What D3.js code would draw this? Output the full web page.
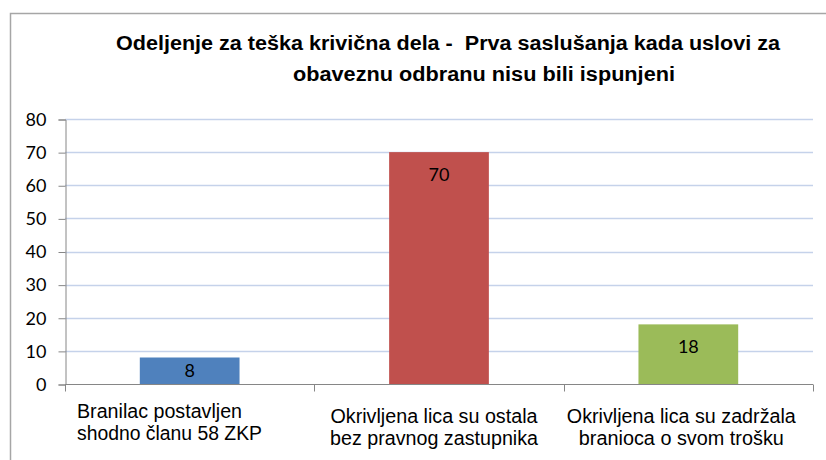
<!DOCTYPE html>
<html>
<head>
<meta charset="utf-8">
<script src="https://cdn.jsdelivr.net/npm/d3@7"></script>
<style>
  body { margin: 0; background: #fff; }
  svg { display: block; }
  text { white-space: pre; }
</style>
</head>
<body>
<svg width="826" height="460"></svg>
<script>
//chart data
const categories = [
    ["Branilac postavljen", "shodno članu 58 ZKP"],
    ["Okrivljena lica su ostala", "bez pravnog zastupnika"],
    ["Okrivljena lica su zadržala", "branioca o svom trošku"]
];
const values = [8, 70, 18];
const bar_colors = ["#4f81bd", "#c0504d", "#9bbb59"];
const y_ticks = [0, 10, 20, 30, 40, 50, 60, 70, 80];
const title_lines = [
    "Odeljenje za teška krivična dela -  Prva saslušanja kada uslovi za",
    "obaveznu odbranu nisu bili ispunjeni"
];

const svg = d3.select("svg");

//plot area
const plot = { left: 65, right: 813, top: 119, bottom: 384 };

//outer chart border
svg.append("rect")
    .attr("x", 10.5)
    .attr("y", 13.5)
    .attr("width", 900)
    .attr("height", 600)
    .attr("fill", "none")
    .attr("stroke", "#a6a6a6")
    .attr("stroke-width", 1.5);

//title (widths, font is narrower there)
const title_x = [116, 293];
const title_w = [664, 382];
title_lines.forEach((line, i) => {
    svg.append("text")
        .attr("x", title_x[i])
        .attr("y", 50 + i * 31)
        .attr("font-family", "Liberation Sans, Arial, sans-serif")
        .attr("font-weight", "bold")
        .attr("font-size", "20px")
        .attr("fill", "#000")
        .attr("textLength", title_w[i])
        .attr("lengthAdjust", "spacingAndGlyphs")
        .text(line);
});

const idx = categories.map((c, i) => i);

//scales
const x = d3.scaleBand()
    .domain(idx)
    .range([plot.left, plot.right])
    .padding(0);

const y = d3.scaleLinear()
    .domain([0, 80])
    .range([plot.bottom, plot.top]);

//gridlines
svg.append("g")
    .selectAll("line")
    .data(y_ticks.filter(t => t > 0))
    .enter()
    .append("line")
    .attr("x1", plot.left)
    .attr("x2", plot.right)
    .attr("y1", d => Math.round(y(d)) + 0.5)
    .attr("y2", d => Math.round(y(d)) + 0.5)
    .attr("stroke", "#c5d2ea")
    .attr("stroke-width", 1.5);

//y axis
const y_axis = svg.append("g")
    .attr("transform", `translate(${plot.left + 0.5}, 0.5)`)
    .call(d3.axisLeft(y).tickValues(y_ticks).tickSizeOuter(0).tickSize(7).tickPadding(12));
y_axis.select(".domain").attr("stroke", "#868686");
y_axis.selectAll(".tick line").attr("stroke", "#868686");
y_axis.selectAll("text")
    .attr("font-family", "Lato, Carlito, Calibri, sans-serif")
    .attr("font-size", "18px")
    .attr("fill", "#000");

//bars
const bar_w = x.bandwidth() * 0.4;
svg.append("g")
    .selectAll("rect")
    .data(values)
    .enter()
    .append("rect")
    .attr("x", (d, i) => x(i) + (x.bandwidth() - bar_w) / 2)
    .attr("y", d => y(d))
    .attr("width", bar_w)
    .attr("height", d => y(0) - y(d))
    .attr("fill", (d, i) => bar_colors[i]);

//x axis
const x_axis = svg.append("g")
    .attr("transform", `translate(0, ${plot.bottom + 0.5})`);
x_axis.append("line")
    .attr("x1", plot.left)
    .attr("x2", plot.right)
    .attr("stroke", "#868686");
x_axis.selectAll(".tick")
    .data(idx.map(i => x(i)).concat([plot.right]))
    .enter()
    .append("line")
    .attr("x1", d => Math.round(d) + 0.5)
    .attr("x2", d => Math.round(d) + 0.5)
    .attr("y1", 0)
    .attr("y2", 7)
    .attr("stroke", "#868686");

//value labels
svg.append("g")
    .selectAll("text")
    .data(values)
    .enter()
    .append("text")
    .attr("x", (d, i) => x(i) + x.bandwidth() / 2)
    .attr("y", d => y(d) + Math.min(23, (y(0) - y(d)) / 2) + 6)
    .attr("text-anchor", "middle")
    .attr("font-family", "Lato, Carlito, Calibri, sans-serif")
    .attr("font-size", "18px")
    .attr("fill", "#000")
    .text(d => d);

//category labels, line widths as in the picture
const lab_w = [[165, 185], [207, 208], [229, 205]];
const lab_y = [418, 423, 423];
categories.forEach((lines, i) => {
    const t = svg.append("text")
        .attr("font-family", "Liberation Sans, Arial, sans-serif")
        .attr("font-size", "20px")
        .attr("fill", "#000")
        .attr("text-anchor", i === 0 ? "start" : "middle");
    lines.forEach((line, j) => {
        t.append("tspan")
            .attr("x", i === 0 ? 77 : x(i) + x.bandwidth() / 2 - (i === 1 ? 5 : 7))
            .attr("y", lab_y[i] + j * 22)
            .attr("textLength", lab_w[i][j])
            .attr("lengthAdjust", "spacingAndGlyphs")
            .text(line);
    });
});
</script>
</body>
</html>
